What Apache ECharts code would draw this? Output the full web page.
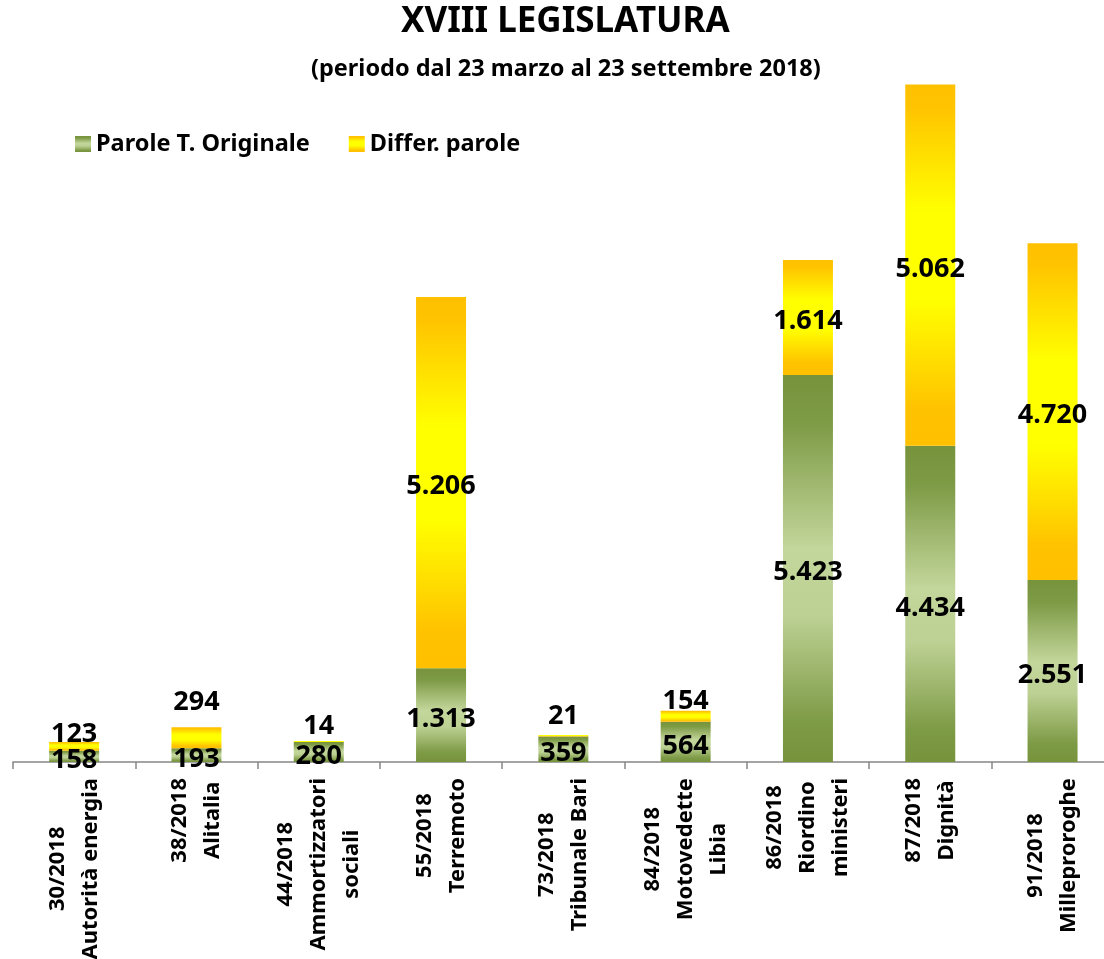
<!DOCTYPE html>
<html>
<head>
<meta charset="utf-8">
<script src="https://cdn.jsdelivr.net/npm/echarts@6/dist/echarts.min.js"></script>
<style>
  html, body { margin: 0; padding: 0; background: #fff; }
  #chart { width: 1104px; height: 959px; }
</style>
</head>
<body>
<div id="chart"></div>
<script>
// dati
const categories = [
  ['30/2018', 'Autorità energia'],
  ['38/2018', 'Alitalia'],
  ['44/2018', 'Ammortizzatori', 'sociali'],
  ['55/2018', 'Terremoto'],
  ['73/2018', 'Tribunale Bari'],
  ['84/2018', 'Motovedette', 'Libia'],
  ['86/2018', 'Riordino', 'ministeri'],
  ['87/2018', 'Dignità'],
  ['91/2018', 'Milleproroghe']
];
const paroleOriginale = [158, 193, 280, 1313, 359, 564, 5423, 4434, 2551];
const differParole = [123, 294, 14, 5206, 21, 154, 1614, 5062, 4720];

// spostamento verticale delle etichette gialle piccole (stile, non dati)
const yellowLabelDy = [-16, -39, -19, 0, -23, -19, 0, 0, 0];

const FONT = '"Noto Sans", "DejaVu Sans", sans-serif';

// formato italiano: 5.423
function fmt(v) {
  return String(v).replace(/\B(?=(\d{3})+(?!\d))/g, '.');
}

const greenFill = new echarts.graphic.LinearGradient(0, 0, 0, 1, [
  { offset: 0, color: '#77933C' },
  { offset: 0.12, color: '#7D9A45' },
  { offset: 0.45, color: '#C3D69B' },
  { offset: 0.62, color: '#BDD194' },
  { offset: 0.9, color: '#7D9A45' },
  { offset: 1, color: '#77933C' }
]);
const yellowFill = new echarts.graphic.LinearGradient(0, 0, 0, 1, [
  { offset: 0, color: '#FFC000' },
  { offset: 0.06, color: '#FFC300' },
  { offset: 0.35, color: '#FFFF00' },
  { offset: 0.6, color: '#FFFF00' },
  { offset: 0.9, color: '#FFC200' },
  { offset: 1, color: '#FFC000' }
]);

const labelStyle = {
  show: true,
  position: 'inside',
  color: '#000',
  fontFamily: FONT,
  fontWeight: 'bold',
  fontSize: 27,
  offset: [0, 4],
  formatter: p => fmt(p.value)
};

let chart = echarts.init(document.getElementById('chart'));
let options = {
  animation: false,
  title: [
    {
      text: 'XVIII LEGISLATURA',
      left: 401,
      top: 5,
      padding: 0,
      textStyle: { fontFamily: FONT, fontWeight: 'bold', fontSize: 35, color: '#000' }
    },
    {
      text: '(periodo dal 23 marzo al 23 settembre 2018)',
      left: 311,
      top: 57,
      padding: 0,
      textStyle: { fontFamily: FONT, fontWeight: 'bold', fontSize: 23.5, color: '#000' }
    }
  ],
  legend: {
    left: 70,
    top: 127,
    icon: 'rect',
    itemWidth: 16,
    itemHeight: 16,
    itemGap: 39,
    textStyle: { fontFamily: FONT, fontWeight: 'bold', fontSize: 23.5, color: '#000' },
    data: ['Parole T. Originale', 'Differ. parole']
  },
  grid: {
    left: 13,
    top: 48.6,
    width: 1100.7,
    height: 713.4,
    containLabel: false,
    outerBoundsMode: 'none'
  },
  xAxis: {
    type: 'category',
    data: categories.map(c => c.join('\n')),
    axisLine: { lineStyle: { color: '#868686', width: 1.5 } },
    axisTick: { show: true, length: 7, lineStyle: { color: '#868686', width: 1.5 } },
    axisLabel: {
      interval: 0,
      rotate: 90,
      margin: 16,
      color: '#000',
      fontFamily: FONT,
      fontWeight: 'bold',
      fontSize: 22,
      hideOverlap: false,
      formatter: v => v.split('\n').map(s => '{c|' + s + '}').join('\n'),
      rich: {
        c: {
          align: 'center',
          fontFamily: FONT,
          fontWeight: 'bold',
          fontSize: 22,
          lineHeight: 33,
          color: '#000'
        }
      }
    }
  },
  yAxis: {
    type: 'value',
    min: 0,
    max: 10000,
    show: false,
    splitLine: { show: false }
  },
  series: [
    {
      name: 'Parole T. Originale',
      type: 'bar',
      stack: 'tot',
      barWidth: 50,
      itemStyle: { color: greenFill },
      label: labelStyle,
      data: paroleOriginale
    },
    {
      name: 'Differ. parole',
      type: 'bar',
      stack: 'tot',
      barWidth: 50,
      itemStyle: { color: yellowFill },
      data: differParole.map((v, i) => ({
        value: v,
        label: Object.assign({}, labelStyle, { offset: [0, yellowLabelDy[i] + 4] })
      }))
    }
  ]
};

chart.setOption(options);
</script>
</body>
</html>
